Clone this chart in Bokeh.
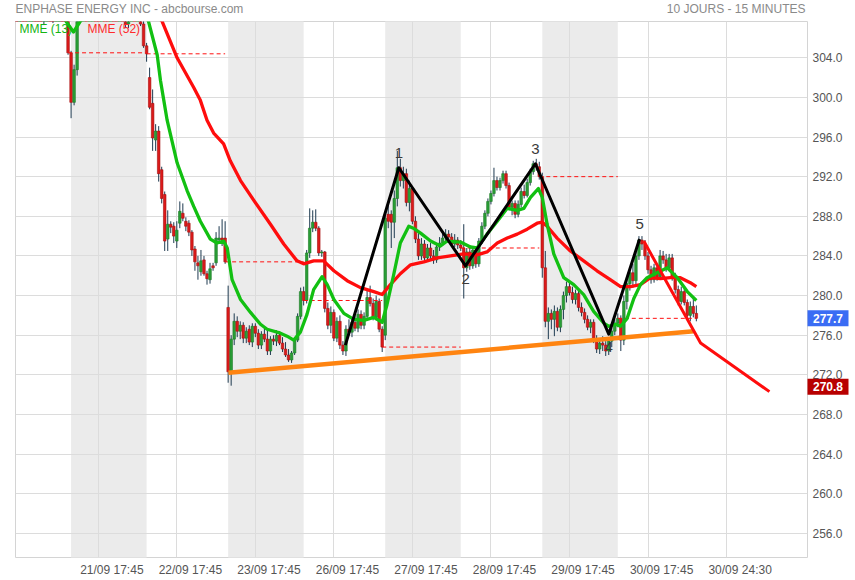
from bokeh.plotting import figure
from bokeh.models import Range1d, FixedTicker, Label, NumeralTickFormatter, ColumnDataSource
from bokeh.embed import file_html
from bokeh.resources import INLINE
from bokeh.core.properties import value

FONT = "Liberation Sans"
FIRST_BAR = -19          # bar index of the first listed bar (bar 0 = 21/09 15:30)
BARS_PER_DAY = 26

# ---------------- OHLC data, 15-minute bars: (open, high, low, close) ----------------
d2009 = [(311.4, 311.8, 310.7, 311.0), (311.0, 311.5, 310.2, 310.6), (310.6, 311.6, 310.3, 311.2),
         (311.2, 311.6, 310.4, 310.8), (310.8, 311.1, 310.0, 310.4), (310.4, 311.3, 310.1, 310.9),
         (310.9, 311.7, 310.6, 311.3), (311.3, 311.5, 310.3, 310.7), (310.7, 311.0, 309.8, 310.2),
         (310.2, 310.5, 309.5, 309.8), (309.8, 310.6, 307.3, 310.3), (310.3, 311.2, 310.0, 310.9),
         (310.9, 311.2, 310.1, 310.5), (310.5, 310.8, 307.5, 310.0), (310.0, 310.7, 309.7, 310.4),
         (310.4, 311.1, 310.1, 310.8), (310.8, 311.0, 309.9, 310.3), (310.3, 310.6, 309.5, 309.9),
         (309.9, 310.2, 304.3, 304.5)]
d2109 = [(304.5, 304.7, 297.9, 299.5), (299.5, 303.3, 299.2, 302.8), (302.8, 309.8, 302.2, 309.3),
         (309.3, 310.3, 308.9, 309.8), (309.8, 310.9, 309.4, 310.4), (310.4, 310.8, 309.7, 310.1),
         (310.1, 311.1, 309.9, 310.7), (310.7, 311.6, 310.4, 311.2), (311.2, 311.5, 310.4, 310.8),
         (310.8, 311.0, 309.9, 310.3), (310.3, 310.9, 310.0, 310.6), (310.6, 310.8, 309.7, 310.0),
         (310.0, 310.3, 309.3, 309.6), (309.6, 310.4, 309.3, 310.1), (310.1, 310.4, 309.4, 309.7),
         (309.7, 310.0, 309.0, 309.3), (309.3, 310.2, 309.0, 309.8), (309.8, 310.1, 308.9, 309.2),
         (309.2, 309.5, 307.0, 307.4), (307.4, 309.0, 307.0, 308.7), (308.7, 309.3, 308.3, 308.9),
         (308.9, 309.2, 308.1, 308.4), (308.4, 308.9, 308.0, 308.6), (308.6, 308.8, 307.2, 307.4),
         (307.4, 309.0, 305.0, 305.2), (305.2, 305.5, 303.6, 304.4)]
d2209 = [(302.0, 303.0, 298.8, 299.0), (299.4, 300.8, 294.6, 295.9), (295.7, 297.3, 294.6, 296.6),
         (296.6, 297.1, 291.5, 292.3), (292.7, 293.0, 289.3, 289.8), (290.2, 290.5, 284.5, 285.5),
         (285.7, 288.6, 284.5, 287.2), (287.2, 287.5, 286.3, 286.9), (287.0, 287.4, 285.3, 286.0),
         (285.5, 287.5, 284.8, 286.6), (287.3, 289.5, 286.8, 288.5), (288.3, 289.3, 287.5, 287.8),
         (287.5, 287.9, 286.5, 287.0), (287.3, 287.6, 286.0, 286.4), (286.4, 286.6, 284.0, 284.6),
         (284.7, 285.0, 282.5, 283.4), (283.3, 284.0, 281.6, 283.0), (282.4, 284.6, 282.0, 283.5),
         (283.6, 284.0, 282.0, 282.2), (282.2, 282.5, 281.1, 281.7), (281.6, 283.3, 281.2, 282.7),
         (283.0, 283.3, 282.5, 282.8), (283.3, 286.4, 283.0, 285.8), (285.6, 287.0, 285.3, 285.8),
         (285.8, 287.7, 285.0, 285.6), (285.8, 287.5, 283.2, 283.4)]
d2309 = [(278.8, 281.0, 271.2, 272.3), (272.3, 276.0, 270.9, 275.6), (275.6, 278.2, 275.0, 277.4),
         (277.4, 277.9, 275.8, 276.4), (276.4, 277.4, 275.6, 277.0), (277.0, 277.3, 275.2, 275.7),
         (275.7, 276.8, 275.2, 276.4), (276.6, 277.0, 275.0, 275.3), (275.3, 277.2, 274.8, 276.9),
         (276.9, 277.2, 275.8, 276.2), (276.2, 276.6, 274.6, 275.0), (275.0, 276.4, 274.6, 276.1),
         (276.1, 276.9, 275.3, 275.6), (275.6, 276.5, 274.0, 274.4), (274.4, 275.9, 274.0, 275.6),
         (275.6, 276.0, 275.0, 275.4), (275.4, 276.5, 274.9, 276.0), (276.0, 276.4, 275.0, 275.2),
         (275.2, 275.8, 274.3, 274.6), (274.6, 275.3, 273.8, 274.0), (274.0, 274.6, 273.3, 273.5),
         (273.5, 274.4, 273.2, 274.2), (274.2, 275.8, 274.0, 275.5), (275.5, 278.2, 275.3, 277.9),
         (277.9, 280.8, 277.6, 280.4), (280.4, 280.9, 279.0, 279.5)]
d2609 = [(279.5, 284.6, 279.2, 284.3), (284.3, 288.8, 283.8, 286.8), (286.8, 288.6, 286.4, 287.4),
         (287.4, 288.7, 286.5, 286.8), (286.8, 287.0, 284.0, 284.3), (284.3, 284.6, 283.9, 284.4),
         (284.4, 284.5, 278.3, 278.7), (278.7, 279.3, 276.6, 277.0), (277.0, 278.9, 276.2, 278.3),
         (278.3, 278.6, 275.4, 275.7), (275.7, 277.8, 275.3, 277.4), (277.4, 278.0, 274.6, 275.0),
         (275.0, 275.4, 274.0, 274.4), (274.4, 277.0, 273.9, 276.6), (276.6, 277.6, 276.0, 276.3),
         (276.3, 277.7, 275.8, 277.3), (277.3, 277.9, 276.4, 276.7), (276.7, 278.6, 276.3, 278.1),
         (278.1, 278.5, 276.6, 277.0), (277.0, 278.3, 276.6, 277.9), (277.9, 280.5, 277.5, 279.8),
         (279.8, 281.0, 278.9, 279.2), (279.2, 279.7, 277.5, 277.8), (277.8, 280.0, 277.5, 279.4),
         (279.4, 279.7, 276.3, 276.6), (276.6, 276.9, 274.3, 274.8)]
d2709 = [(276.0, 288.5, 275.5, 287.8), (288.2, 289.2, 286.8, 287.5), (288.2, 288.6, 284.8, 287.4),
         (287.4, 290.6, 285.8, 289.8), (289.8, 294.6, 289.0, 292.9), (292.9, 293.8, 291.0, 291.6),
         (291.6, 293.0, 290.8, 292.3), (292.3, 292.8, 289.0, 289.4), (289.4, 291.6, 288.5, 290.8),
         (290.8, 291.0, 287.2, 287.5), (287.5, 288.0, 285.3, 285.7), (285.7, 286.3, 283.6, 284.0),
         (284.0, 285.8, 283.6, 285.2), (285.2, 285.6, 283.4, 283.8), (283.8, 285.2, 283.5, 284.8),
         (284.8, 285.3, 283.6, 284.0), (284.0, 284.6, 283.2, 283.6), (283.6, 285.3, 283.3, 284.9),
         (284.9, 285.9, 284.5, 285.3), (285.3, 286.4, 285.0, 285.8), (285.8, 286.7, 285.4, 286.2),
         (286.2, 286.6, 285.4, 285.9), (285.9, 286.3, 284.9, 285.2), (285.2, 286.2, 284.9, 285.6),
         (285.6, 285.9, 284.7, 285.1), (285.1, 285.6, 284.5, 284.8)]
d2809 = [(284.8, 287.2, 279.7, 282.8), (282.8, 284.8, 282.4, 284.4), (284.4, 285.0, 282.6, 283.0),
         (283.0, 285.0, 282.7, 284.6), (284.6, 285.0, 282.8, 283.2), (283.2, 285.8, 282.9, 285.5),
         (285.5, 287.4, 285.2, 287.0), (287.0, 288.6, 286.7, 288.3), (288.3, 289.8, 288.0, 289.5),
         (289.5, 290.6, 289.2, 290.3), (290.3, 292.9, 290.0, 291.6), (291.6, 292.0, 290.6, 290.9),
         (290.9, 291.9, 290.6, 291.6), (291.6, 292.6, 291.3, 292.3), (292.3, 292.6, 290.8, 291.1),
         (291.1, 291.4, 288.6, 288.9), (288.9, 289.6, 288.1, 289.3), (289.3, 289.6, 287.8, 288.2),
         (288.2, 289.6, 287.9, 289.2), (289.2, 290.9, 288.9, 290.5), (290.5, 291.2, 289.8, 290.1),
         (290.1, 291.8, 289.9, 291.4), (291.4, 292.8, 291.1, 292.5), (292.5, 293.6, 292.2, 293.3),
         (293.3, 293.8, 292.6, 293.0), (293.0, 293.5, 291.7, 292.0)]
d2909 = [(292.0, 292.4, 281.8, 282.8), (282.8, 284.5, 276.8, 277.4), (277.4, 278.8, 275.6, 278.2),
         (278.2, 278.6, 276.6, 277.6), (277.6, 279.0, 275.9, 278.4), (278.4, 278.8, 276.4, 276.8),
         (276.8, 279.0, 276.3, 278.6), (278.6, 280.4, 277.6, 280.0), (280.0, 281.4, 279.3, 280.9),
         (280.9, 281.5, 280.0, 280.3), (280.3, 280.9, 279.2, 279.6), (279.6, 280.6, 279.1, 280.2),
         (280.2, 280.5, 278.4, 278.8), (278.8, 279.3, 277.9, 278.3), (278.3, 278.7, 277.2, 277.6),
         (277.6, 278.0, 276.5, 276.8), (276.8, 277.6, 276.2, 277.3), (277.3, 277.6, 275.2, 275.5),
         (275.5, 276.0, 274.2, 274.6), (274.6, 275.6, 274.1, 275.2), (275.2, 275.9, 274.4, 275.0),
         (275.0, 275.4, 273.9, 274.4), (274.4, 275.8, 274.0, 275.4), (275.4, 276.8, 274.8, 276.4),
         (276.4, 277.6, 276.0, 277.2), (277.2, 278.2, 276.8, 277.7)]
d3009 = [(277.7, 278.0, 274.4, 275.5), (275.5, 280.0, 275.0, 279.4), (279.4, 281.8, 278.6, 281.2),
         (281.2, 282.8, 280.5, 282.3), (282.3, 283.2, 280.8, 281.5), (281.5, 284.6, 281.0, 284.0),
         (284.0, 286.0, 283.6, 285.6), (285.6, 286.0, 284.6, 285.2), (285.2, 285.6, 283.6, 284.0),
         (284.0, 284.4, 282.2, 282.6), (282.6, 283.0, 281.2, 281.6), (281.6, 283.2, 281.3, 282.8),
         (282.8, 283.1, 281.5, 281.9), (281.9, 284.6, 281.6, 284.0), (284.0, 284.5, 283.2, 283.6),
         (283.6, 284.2, 282.4, 282.8), (282.8, 284.2, 282.6, 283.8), (283.8, 284.2, 281.5, 281.9),
         (281.9, 282.3, 280.2, 280.6), (280.6, 281.0, 279.0, 279.4), (279.4, 280.9, 279.1, 280.4),
         (280.4, 280.7, 279.0, 279.3), (279.3, 279.6, 277.6, 278.0), (278.0, 279.4, 277.4, 278.9),
         (278.9, 279.8, 277.8, 278.2), (278.2, 279.0, 277.4, 277.7)]

# previous-day close shown dashed over each trading day (21/09 .. 30/09)
prev_close = [304.5, 304.4, 283.4, 279.5, 274.8, 284.8, 292.0, 277.7]

# moving averages: (bar index, value)
mme13_x = [-19, -6, -2.9, -1.5, 0.8, 3.1, 5, 12, 20, 24, 25.6, 28.5, 29.6, 30.7, 31.8, 35.1, 38.4, 40.6, 42.8,
           46.1, 48.3, 50.5, 51.7, 53.3, 56.1, 59.4, 62.7, 64.9, 69.3, 71.5, 73.7, 75.9, 78.1, 80.3, 83.1, 84.8,
           87.0, 90.3, 93.6, 96.9, 100.2, 103.0, 104.6, 106.8, 109.0, 111.8, 113.3, 115.7, 119.0, 122.3, 124.5,
           128.9, 132.2, 134.4, 137.7, 141.1, 144.4, 147.7, 149.9, 152.1, 154.7, 156.0, 157.6, 159.8, 163.1,
           166.4, 169.7, 173.0, 176.4, 178.0, 180.2, 181.9, 184.1, 186.3, 188.5, 190.7, 194.0, 197.4, 200.7,
           204.0, 207.0]
mme13_y = [310.8, 309.5, 308.3, 307.6, 306.6, 307.7, 308.7, 309.6, 309.4, 308.6, 307.7, 304.3, 301.7, 299.7,
           297.7, 293.4, 290.6, 289.0, 287.5, 285.7, 285.3, 285.5, 284.8, 281.6, 279.6, 278.3, 277.1, 276.6,
           276.2, 275.9, 275.5, 276.3, 278.1, 280.6, 281.9, 281.1, 279.6, 278.2, 277.6, 277.5, 277.8, 277.3,
           279.1, 282.1, 285.3, 287.0, 286.8, 286.3, 285.5, 285.0, 285.5, 285.4, 284.9, 284.8, 286.2, 287.5,
           288.8, 288.6, 288.8, 289.9, 290.8, 289.9, 287.2, 284.2, 281.8, 281.1, 280.1, 278.4, 277.2, 276.9,
           277.1, 276.9, 277.7, 279.7, 281.1, 281.8, 282.3, 282.8, 281.8, 280.4, 279.5]
mme52_x = [-19, 0, 15, 25, 30.1, 35.1, 40.6, 42.8, 45.0, 47.2, 50.5, 52.7, 56.1, 60.5, 66.0, 70.4, 74.8, 77.0,
           80.3, 83.6, 87.0, 91.4, 95.8, 100.2, 103.0, 105.7, 109.0, 112.4, 116.8, 121.2, 125.6, 130.0, 134.4,
           137.7, 141.1, 144.4, 147.7, 151.0, 154.3, 156.0, 157.6, 160.9, 165.3, 169.7, 174.1, 178.5, 181.9,
           185.2, 188.5, 191.8, 195.1, 198.4, 201.7, 205.0, 207.0]
mme52_y = [314.5, 312.5, 310.8, 309.2, 307.7, 304.0, 301.0, 299.7, 297.7, 296.4, 295.3, 293.6, 291.6, 289.6,
           287.2, 285.2, 283.5, 283.2, 283.5, 283.5, 282.5, 281.5, 280.8, 280.4, 280.1, 281.1, 282.2, 283.1,
           283.4, 283.8, 284.0, 284.2, 284.1, 284.4, 285.3, 285.8, 286.2, 286.7, 287.3, 287.4, 287.0, 285.8,
           284.5, 283.5, 282.5, 281.6, 280.9, 280.9, 281.1, 281.8, 281.7, 281.8, 281.8, 281.3, 280.9]

# chart pattern drawn on the chart
pattern_x = [90.8, 108.5, 130.6, 153.7, 178.0, 188.2]
pattern_y = [275.0, 292.9, 283.0, 293.3, 276.1, 285.7]
pattern_labels = ["", "1", "2", "3", "4", "5"]
support_x = [52.1, 206.1]
support_y = [272.2, 276.4]
target_x = [189.6, 208.4, 231.2]
target_y = [285.5, 275.2, 270.3]

last_price = 277.7
target_price = 270.8

day_labels = ["21/09", "22/09", "23/09", "26/09", "27/09", "28/09", "29/09", "30/09"]
x_tick_labels = ["21/09 17:45", "22/09 17:45", "23/09 17:45", "26/09 17:45", "27/09 17:45",
                 "28/09 17:45", "29/09 17:45", "30/09 17:45", "30/09 24:30"]
y_ticks = [256, 260, 264, 268, 272, 276, 280, 284, 288, 292, 296, 300, 304]
title_left = "ENPHASE ENERGY INC - abcbourse.com"
title_right = "10 JOURS - 15 MINUTES"

# ---------------- figure ----------------
X0, X1 = -18.4, 243.8
Y0, Y1 = 253.56, 307.66
PX_PER_BAR = 792 / (X1 - X0)
PX_PER_UNIT = 536 / (Y1 - Y0)

p = figure(width=855, height=580, x_range=Range1d(X0, X1), y_range=Range1d(Y0, Y1),
           output_backend="svg", toolbar_location=None, y_axis_location="right",
           min_border_left=15, min_border_right=48, min_border_top=21, min_border_bottom=23,
           background_fill_color="white", border_fill_color="white", outline_line_color="#d4d4d4")

# alternate day shading
for k in range(0, len(day_labels), 2):
    p.quad(left=[k * BARS_PER_DAY], right=[k * BARS_PER_DAY + BARS_PER_DAY - 1], bottom=[Y0 - 5], top=[Y1 + 5],
           fill_color="#ebebeb", line_color=None, level="image")

grid_ticks = [9 + BARS_PER_DAY * k for k in range(len(x_tick_labels))]
label_ticks = [g + 4.5 for g in grid_ticks]

p.xgrid.ticker = FixedTicker(ticks=grid_ticks)
p.ygrid.ticker = FixedTicker(ticks=y_ticks)
p.grid.grid_line_color = "#dcdcdc"
p.grid.grid_line_width = 1

xa = p.xaxis[0]
xa.ticker = FixedTicker(ticks=label_ticks)
xa.major_label_overrides = {t: s for t, s in zip(label_ticks, x_tick_labels)}
ya = p.yaxis[0]
ya.ticker = FixedTicker(ticks=y_ticks)
ya.formatter = NumeralTickFormatter(format="0.0")
for ax in (xa, ya):
    ax.axis_line_color = None
    ax.major_tick_line_color = None
    ax.minor_tick_line_color = None
    ax.major_tick_out = 0
    ax.major_tick_in = 0
    ax.major_label_text_font = FONT
    ax.major_label_text_font_size = "12px"
    ax.major_label_text_color = "#555555"
xa.major_label_standoff = 5
ya.major_label_standoff = 5

# candles
bars = d2009 + d2109 + d2209 + d2309 + d2609 + d2709 + d2809 + d2909 + d3009
xs = list(range(FIRST_BAR, FIRST_BAR + len(bars)))
o = [b[0] for b in bars]
h = [b[1] for b in bars]
l = [b[2] for b in bars]
c = [b[3] for b in bars]
up = [cc >= oo for oo, cc in zip(o, c)]
src = ColumnDataSource(dict(
    x=xs, h=h, l=l,
    top=[max(a, b) for a, b in zip(o, c)],
    bottom=[min(a, b) for a, b in zip(o, c)],
    fill=["#2a9e36" if u else "#dd1a1a" for u in up],
    edge=["#1b7a25" if u else "#a30f0f" for u in up],
))
p.segment(x0="x", y0="l", x1="x", y1="h", source=src, line_color="#1e3a50", line_width=1)
p.vbar(x="x", width=0.85, top="top", bottom="bottom", source=src,
       fill_color="fill", line_color="edge", line_width=0.6)

# previous close dashed lines
p.segment(x0=[k * BARS_PER_DAY - 1 for k in range(len(prev_close))], y0=prev_close,
          x1=[k * BARS_PER_DAY + BARS_PER_DAY - 1 for k in range(len(prev_close))], y1=prev_close,
          line_color="#ff1010", line_width=1, line_dash="4 3")

# moving averages
p.line(mme52_x, mme52_y, line_color="#ff0d0d", line_width=3.3, line_join="round")
p.line(mme13_x, mme13_y, line_color="#12c012", line_width=3.3, line_join="round")

# support, pattern and projection
p.line(support_x, support_y, line_color="#ff8410", line_width=4.5)
p.line(pattern_x, pattern_y, line_color="#000000", line_width=3, line_join="round")
p.line(target_x, target_y, line_color="#ff0d0d", line_width=3, line_join="round")

lab_x, lab_y, lab_t, lab_off = [], [], [], []
for k in range(1, len(pattern_x)):
    is_peak = pattern_y[k] > pattern_y[k - 1]
    lab_x.append(pattern_x[k])
    lab_y.append(pattern_y[k])
    lab_t.append(pattern_labels[k])
    lab_off.append(-15 if is_peak else 13)
p.text(x=lab_x, y=lab_y, text=lab_t, y_offset=lab_off, text_align="center", text_baseline="middle",
       text_font=value(FONT), text_font_size="15px", text_color="#3a3a3a")

# legend texts
p.add_layout(Label(x=X0 + 1.3, y=306.87, text="MME (13)", text_color="#14b414", text_font=FONT,
                   text_font_size="12px", text_baseline="middle", text_align="left"))
p.add_layout(Label(x=5.4, y=306.87, text="MME (52)", text_color="#ff2a2a", text_font=FONT,
                   text_font_size="12px", text_baseline="middle", text_align="left"))

# header (drawn above the frame, overlay level is not clipped)
head_y = Y1 + 12.5 / PX_PER_UNIT
p.text(x=[X0], y=[head_y], text=[title_left], text_align="left", text_baseline="middle",
       text_font=value(FONT), text_font_size="12px", text_color="#8a8a8a", level="overlay")
p.text(x=[X1 - 2 / PX_PER_BAR], y=[head_y], text=[title_right], text_align="right", text_baseline="middle",
       text_font=value(FONT), text_font_size="12px", text_color="#8a8a8a", level="overlay")

# price tags right of the frame
tag_w = 41 / PX_PER_BAR
tag_h = 8 / PX_PER_UNIT
tag_vals = [last_price, target_price]
tag_cols = ["#3a6cf4", "#b80000"]
p.quad(left=[X1] * 2, right=[X1 + tag_w] * 2, bottom=[v - tag_h for v in tag_vals],
       top=[v + tag_h for v in tag_vals], fill_color=tag_cols, line_color=None, level="overlay")
p.text(x=[X1 + tag_w / 2] * 2, y=tag_vals, text=[f"{v:.1f}" for v in tag_vals], text_align="center",
       text_baseline="middle", text_font=value(FONT), text_font_size="12px", text_font_style="bold",
       text_color="white", level="overlay")

open("out.html", "w").write(file_html(p, INLINE))
